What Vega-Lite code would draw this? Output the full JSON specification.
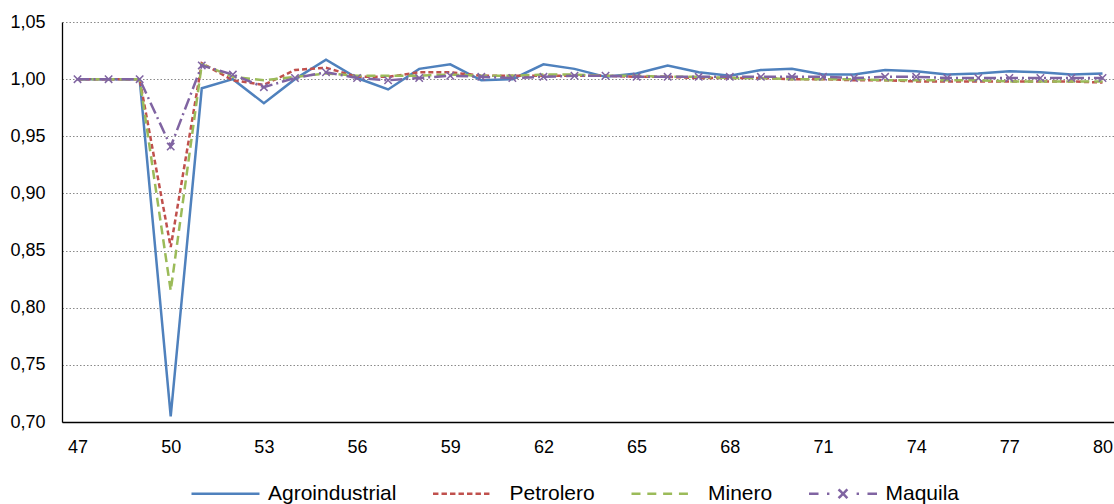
{
  "$schema": "https://vega.github.io/schema/vega-lite/v6.json",
  "width": 1052,
  "height": 400,
  "autosize": {"type": "none"},
  "padding": {"left": 62, "top": 22, "right": 0, "bottom": 82},
  "background": "white",
  "config": {"view": {"stroke": null}, "font": "Liberation Sans"},
  "datasets": {
    "d": [
      {"year": 47, "series": "Agroindustrial", "value": 1.000},
      {"year": 48, "series": "Agroindustrial", "value": 1.000},
      {"year": 49, "series": "Agroindustrial", "value": 1.000},
      {"year": 50, "series": "Agroindustrial", "value": 0.705},
      {"year": 51, "series": "Agroindustrial", "value": 0.992},
      {"year": 52, "series": "Agroindustrial", "value": 1.000},
      {"year": 53, "series": "Agroindustrial", "value": 0.979},
      {"year": 54, "series": "Agroindustrial", "value": 1.000},
      {"year": 55, "series": "Agroindustrial", "value": 1.017},
      {"year": 56, "series": "Agroindustrial", "value": 1.001},
      {"year": 57, "series": "Agroindustrial", "value": 0.991},
      {"year": 58, "series": "Agroindustrial", "value": 1.009},
      {"year": 59, "series": "Agroindustrial", "value": 1.013},
      {"year": 60, "series": "Agroindustrial", "value": 0.999},
      {"year": 61, "series": "Agroindustrial", "value": 1.000},
      {"year": 62, "series": "Agroindustrial", "value": 1.013},
      {"year": 63, "series": "Agroindustrial", "value": 1.009},
      {"year": 64, "series": "Agroindustrial", "value": 1.002},
      {"year": 65, "series": "Agroindustrial", "value": 1.005},
      {"year": 66, "series": "Agroindustrial", "value": 1.012},
      {"year": 67, "series": "Agroindustrial", "value": 1.006},
      {"year": 68, "series": "Agroindustrial", "value": 1.003},
      {"year": 69, "series": "Agroindustrial", "value": 1.008},
      {"year": 70, "series": "Agroindustrial", "value": 1.009},
      {"year": 71, "series": "Agroindustrial", "value": 1.004},
      {"year": 72, "series": "Agroindustrial", "value": 1.004},
      {"year": 73, "series": "Agroindustrial", "value": 1.008},
      {"year": 74, "series": "Agroindustrial", "value": 1.007},
      {"year": 75, "series": "Agroindustrial", "value": 1.004},
      {"year": 76, "series": "Agroindustrial", "value": 1.005},
      {"year": 77, "series": "Agroindustrial", "value": 1.007},
      {"year": 78, "series": "Agroindustrial", "value": 1.006},
      {"year": 79, "series": "Agroindustrial", "value": 1.004},
      {"year": 80, "series": "Agroindustrial", "value": 1.005},
      {"year": 47, "series": "Petrolero", "value": 1.000},
      {"year": 48, "series": "Petrolero", "value": 1.000},
      {"year": 49, "series": "Petrolero", "value": 1.000},
      {"year": 50, "series": "Petrolero", "value": 0.853},
      {"year": 51, "series": "Petrolero", "value": 1.014},
      {"year": 52, "series": "Petrolero", "value": 0.999},
      {"year": 53, "series": "Petrolero", "value": 0.995},
      {"year": 54, "series": "Petrolero", "value": 1.008},
      {"year": 55, "series": "Petrolero", "value": 1.010},
      {"year": 56, "series": "Petrolero", "value": 1.002},
      {"year": 57, "series": "Petrolero", "value": 1.002},
      {"year": 58, "series": "Petrolero", "value": 1.006},
      {"year": 59, "series": "Petrolero", "value": 1.006},
      {"year": 60, "series": "Petrolero", "value": 1.003},
      {"year": 61, "series": "Petrolero", "value": 1.003},
      {"year": 62, "series": "Petrolero", "value": 1.003},
      {"year": 63, "series": "Petrolero", "value": 1.003},
      {"year": 64, "series": "Petrolero", "value": 1.003},
      {"year": 65, "series": "Petrolero", "value": 1.002},
      {"year": 66, "series": "Petrolero", "value": 1.002},
      {"year": 67, "series": "Petrolero", "value": 1.001},
      {"year": 68, "series": "Petrolero", "value": 1.001},
      {"year": 69, "series": "Petrolero", "value": 1.001},
      {"year": 70, "series": "Petrolero", "value": 1.000},
      {"year": 71, "series": "Petrolero", "value": 1.000},
      {"year": 72, "series": "Petrolero", "value": 0.999},
      {"year": 73, "series": "Petrolero", "value": 0.999},
      {"year": 74, "series": "Petrolero", "value": 0.998},
      {"year": 75, "series": "Petrolero", "value": 0.998},
      {"year": 76, "series": "Petrolero", "value": 0.998},
      {"year": 77, "series": "Petrolero", "value": 0.998},
      {"year": 78, "series": "Petrolero", "value": 0.998},
      {"year": 79, "series": "Petrolero", "value": 0.998},
      {"year": 80, "series": "Petrolero", "value": 0.997},
      {"year": 47, "series": "Minero", "value": 1.000},
      {"year": 48, "series": "Minero", "value": 1.000},
      {"year": 49, "series": "Minero", "value": 1.000},
      {"year": 50, "series": "Minero", "value": 0.815},
      {"year": 51, "series": "Minero", "value": 1.013},
      {"year": 52, "series": "Minero", "value": 1.002},
      {"year": 53, "series": "Minero", "value": 0.999},
      {"year": 54, "series": "Minero", "value": 1.002},
      {"year": 55, "series": "Minero", "value": 1.005},
      {"year": 56, "series": "Minero", "value": 1.003},
      {"year": 57, "series": "Minero", "value": 1.003},
      {"year": 58, "series": "Minero", "value": 1.003},
      {"year": 59, "series": "Minero", "value": 1.004},
      {"year": 60, "series": "Minero", "value": 1.003},
      {"year": 61, "series": "Minero", "value": 1.003},
      {"year": 62, "series": "Minero", "value": 1.004},
      {"year": 63, "series": "Minero", "value": 1.004},
      {"year": 64, "series": "Minero", "value": 1.003},
      {"year": 65, "series": "Minero", "value": 1.003},
      {"year": 66, "series": "Minero", "value": 1.002},
      {"year": 67, "series": "Minero", "value": 1.002},
      {"year": 68, "series": "Minero", "value": 1.001},
      {"year": 69, "series": "Minero", "value": 1.001},
      {"year": 70, "series": "Minero", "value": 1.000},
      {"year": 71, "series": "Minero", "value": 1.000},
      {"year": 72, "series": "Minero", "value": 1.000},
      {"year": 73, "series": "Minero", "value": 0.999},
      {"year": 74, "series": "Minero", "value": 0.999},
      {"year": 75, "series": "Minero", "value": 0.999},
      {"year": 76, "series": "Minero", "value": 0.999},
      {"year": 77, "series": "Minero", "value": 0.998},
      {"year": 78, "series": "Minero", "value": 0.998},
      {"year": 79, "series": "Minero", "value": 0.998},
      {"year": 80, "series": "Minero", "value": 0.998},
      {"year": 47, "series": "Maquila", "value": 1.000},
      {"year": 48, "series": "Maquila", "value": 1.000},
      {"year": 49, "series": "Maquila", "value": 1.000},
      {"year": 50, "series": "Maquila", "value": 0.941},
      {"year": 51, "series": "Maquila", "value": 1.012},
      {"year": 52, "series": "Maquila", "value": 1.004},
      {"year": 53, "series": "Maquila", "value": 0.993},
      {"year": 54, "series": "Maquila", "value": 1.001},
      {"year": 55, "series": "Maquila", "value": 1.006},
      {"year": 56, "series": "Maquila", "value": 1.001},
      {"year": 57, "series": "Maquila", "value": 0.999},
      {"year": 58, "series": "Maquila", "value": 1.001},
      {"year": 59, "series": "Maquila", "value": 1.003},
      {"year": 60, "series": "Maquila", "value": 1.002},
      {"year": 61, "series": "Maquila", "value": 1.001},
      {"year": 62, "series": "Maquila", "value": 1.002},
      {"year": 63, "series": "Maquila", "value": 1.003},
      {"year": 64, "series": "Maquila", "value": 1.003},
      {"year": 65, "series": "Maquila", "value": 1.002},
      {"year": 66, "series": "Maquila", "value": 1.002},
      {"year": 67, "series": "Maquila", "value": 1.002},
      {"year": 68, "series": "Maquila", "value": 1.002},
      {"year": 69, "series": "Maquila", "value": 1.002},
      {"year": 70, "series": "Maquila", "value": 1.002},
      {"year": 71, "series": "Maquila", "value": 1.002},
      {"year": 72, "series": "Maquila", "value": 1.001},
      {"year": 73, "series": "Maquila", "value": 1.002},
      {"year": 74, "series": "Maquila", "value": 1.002},
      {"year": 75, "series": "Maquila", "value": 1.001},
      {"year": 76, "series": "Maquila", "value": 1.001},
      {"year": 77, "series": "Maquila", "value": 1.001},
      {"year": 78, "series": "Maquila", "value": 1.001},
      {"year": 79, "series": "Maquila", "value": 1.001},
      {"year": 80, "series": "Maquila", "value": 1.001}
    ]
  },
  "data": {"name": "d"},
  "encoding": {
    "x": {
      "field": "year", "type": "quantitative",
      "scale": {"domain": [46.5, 80.37], "nice": false, "zero": false},
      "axis": {
        "title": null, "values": [47, 50, 53, 56, 59, 62, 65, 68, 71, 74, 77, 80],
        "format": "d", "grid": false, "ticks": false, "tickSize": 0,
        "labelPadding": 16, "labelFontSize": 18, "labelColor": "#000000",
        "labelFont": "Liberation Sans", "domainColor": "#000000", "domainWidth": 1.3,
        "labelFlush": false, "labelOverlap": false
      }
    },
    "y": {
      "field": "value", "type": "quantitative",
      "scale": {"domain": [0.70, 1.05], "nice": false, "zero": false},
      "axis": {
        "title": null, "values": [0.70, 0.75, 0.80, 0.85, 0.90, 0.95, 1.00, 1.05],
        "labelExpr": "replace(format(datum.value, '.2f'), '.', ',')",
        "grid": true, "gridColor": "#8a8a8a", "gridDash": [1.5, 2], "gridWidth": 1.2,
        "ticks": false, "tickSize": 0, "labelPadding": 17, "labelFontSize": 18,
        "labelColor": "#000000", "labelFont": "Liberation Sans",
        "domainColor": "#000000", "domainWidth": 1.3, "labelFlush": false, "labelOverlap": false
      }
    },
    "color": {
      "field": "series", "type": "nominal",
      "scale": {
        "domain": ["Agroindustrial", "Petrolero", "Minero", "Maquila"],
        "range": ["#4F81BD", "#C0504D", "#9BBB59", "#8064A2"]
      },
      "legend": {
        "title": null, "orient": "none", "legendX": 128, "legendY": 436,
        "direction": "horizontal", "padding": 0,
        "symbolType": "stroke", "symbolSize": 4624, "symbolStrokeWidth": 2.5,
        "labelFont": "Liberation Sans", "labelFontSize": 21, "labelColor": "#000000",
        "labelOffset": 7, "columnPadding": 30.5, "labelLimit": 0,
        "encode": {
          "symbols": {
            "update": {
              "shape": {"signal": "datum.value === 'Agroindustrial' ? 'M-1,0H1' : datum.value === 'Petrolero' ? 'M-1,0H-0.84M-0.75,0H-0.59M-0.5,0H-0.34M-0.25,0H-0.09M0,0H0.16M0.25,0H0.41M0.5,0H0.66' : datum.value === 'Minero' ? 'M-1,0H-0.735M-0.535,0H-0.27M-0.07,0H0.195M0.395,0H0.66' : 'M-1,0H-0.72M-0.47,0H-0.4M-0.13,-0.13L0.13,0.13M-0.13,0.13L0.13,-0.13M0.4,0H0.47M0.72,0H1'"},
              "strokeDash": {"value": [1, 0]},
              "fill": {"value": "transparent"},
              "strokeWidth": {"value": 2.5}
            }
          }
        }
      }
    }
  },
  "layer": [
    {
      "transform": [{"filter": "datum.series === 'Agroindustrial'"}],
      "mark": {"type": "line", "strokeWidth": 2.5}
    },
    {
      "transform": [{"filter": "datum.series === 'Petrolero'"}],
      "mark": {"type": "line", "strokeWidth": 2.5, "strokeDash": [5, 3]}
    },
    {
      "transform": [{"filter": "datum.series === 'Minero'"}],
      "mark": {"type": "line", "strokeWidth": 2.5, "strokeDash": [9, 5]}
    },
    {
      "transform": [{"filter": "datum.series === 'Maquila'"}],
      "mark": {"type": "line", "strokeWidth": 2.5, "strokeDash": [12, 4, 2, 4]}
    },
    {
      "transform": [{"filter": "datum.series === 'Maquila'"}],
      "mark": {"type": "point", "shape": "M-1,-1L1,1M-1,1L1,-1", "filled": false, "size": 55, "strokeWidth": 1.5, "opacity": 1}
    }
  ]
}
